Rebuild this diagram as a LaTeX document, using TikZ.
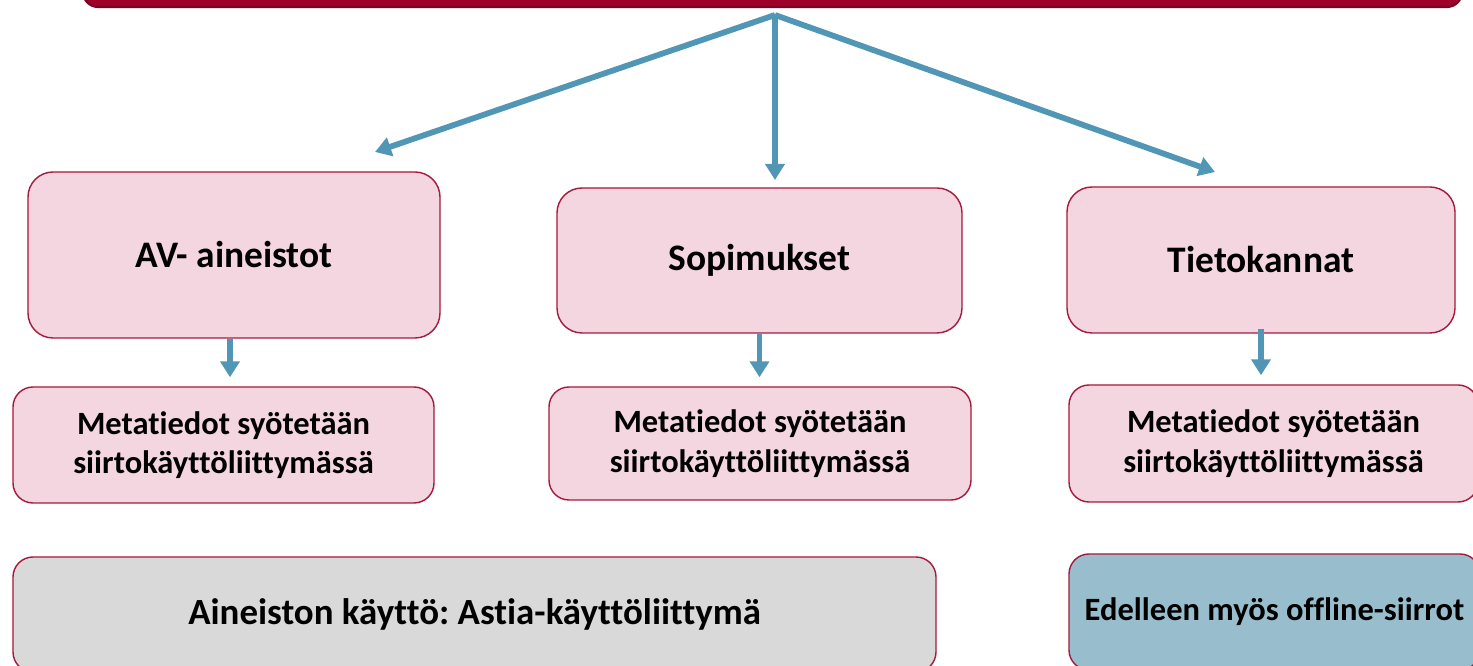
\documentclass[tikz,border=0pt]{standalone}
\usepackage{fontspec}
\setmainfont{Carlito}[Ligatures=NoCommon]
\frenchspacing
\usetikzlibrary{positioning, arrows.meta}
\definecolor{barred}{RGB}{158,0,42}
\definecolor{boxline}{RGB}{165,25,60}
\definecolor{boxpink}{RGB}{243,214,224}
\definecolor{boxgrey}{RGB}{217,217,217}
\definecolor{boxblue}{RGB}{152,190,206}
\definecolor{arrblue}{RGB}{82,150,181}

\begin{document}
\begin{tikzpicture}[
		every node/.style={align=center, font=\bfseries},
		mainbox/.style={draw=boxline, line width=0.8pt, rounded corners=0.5cm, fill=boxpink, font=\fontsize{21.3}{25}\selectfont\bfseries},
		metabox/.style={draw=boxline, line width=0.8pt, rounded corners=0.4cm, fill=boxpink, font=\fontsize{18.5}{22.5}\selectfont\bfseries},
		arr/.style={-{Triangle[length=0.32cm, width=0.38cm]}, line width=3.3pt, arrblue}]
			\useasboundingbox (0,0) rectangle (29.46,-13.32);
			% Top bar
			\node[draw=barred!80!black, line width=1.2pt, fill=barred, rounded corners=0.3cm, minimum width=27.58cm, minimum height=2cm] (bar) at (15.45,0.86) {};
			\coordinate (split) at (15.50,-0.30);
			% Node
			\node[mainbox, minimum width=8.24cm, minimum height=3.32cm] (av) at (4.68,-5.10) {AV- aineistot};
			\node[mainbox, minimum width=8.10cm, minimum height=2.90cm] (sop) at (15.19,-5.21) {Sopimukset};
			\node[mainbox, minimum width=7.76cm, minimum height=2.92cm] (tiet) at (25.22,-5.20) {Tietokannat};
			% Arrows Top
			\coordinate (avtip) at (7.50,-3.04);
			\coordinate (soptip) at (15.50,-3.60);
			\coordinate (tiettip) at (24.30,-3.44);
			\draw[arr] (split) -- (avtip);
			\draw[arr] (split) -- (soptip);
			\draw[arr] (split) -- (tiettip);
			% Metadata
			\node[metabox, minimum width=8.42cm, minimum height=2.32cm] (meta1) at (4.47,-8.90) {Metatiedot syötetään\\siirtokäyttöliittymässä};
			\node[metabox, minimum width=8.44cm, minimum height=2.26cm] (meta2) at (15.20,-8.87) {Metatiedot syötetään\\siirtokäyttöliittymässä};
			\node[metabox, minimum width=8.18cm, minimum height=2.34cm] (meta3) at (25.47,-8.87) {Metatiedot syötetään\\siirtokäyttöliittymässä};
			\draw[arr] ([xshift=-0.08cm]av.south) -- ([xshift=-0.08cm, yshift=0.18cm]av.south |- meta1.north);
			\draw[arr] (sop.south) -- ([yshift=0.18cm]sop.south |- meta2.north);
			\draw[arr] ([yshift=0.1cm]tiet.south) -- ([yshift=0.18cm]tiet.south |- meta3.north);
			% Bottom
			\node[metabox, fill=boxgrey, minimum width=18.46cm, minimum height=2.30cm, font=\fontsize{21}{25}\selectfont\bfseries] (use) at (9.49,-12.29) {Aineiston käyttö: Astia-käyttöliittymä};
			\node[metabox, fill=boxblue, minimum width=8.22cm, minimum height=2.32cm] (offline) at (25.49,-12.24) {Edelleen myös offline-siirrot};
		\end{tikzpicture}
\end{document}
